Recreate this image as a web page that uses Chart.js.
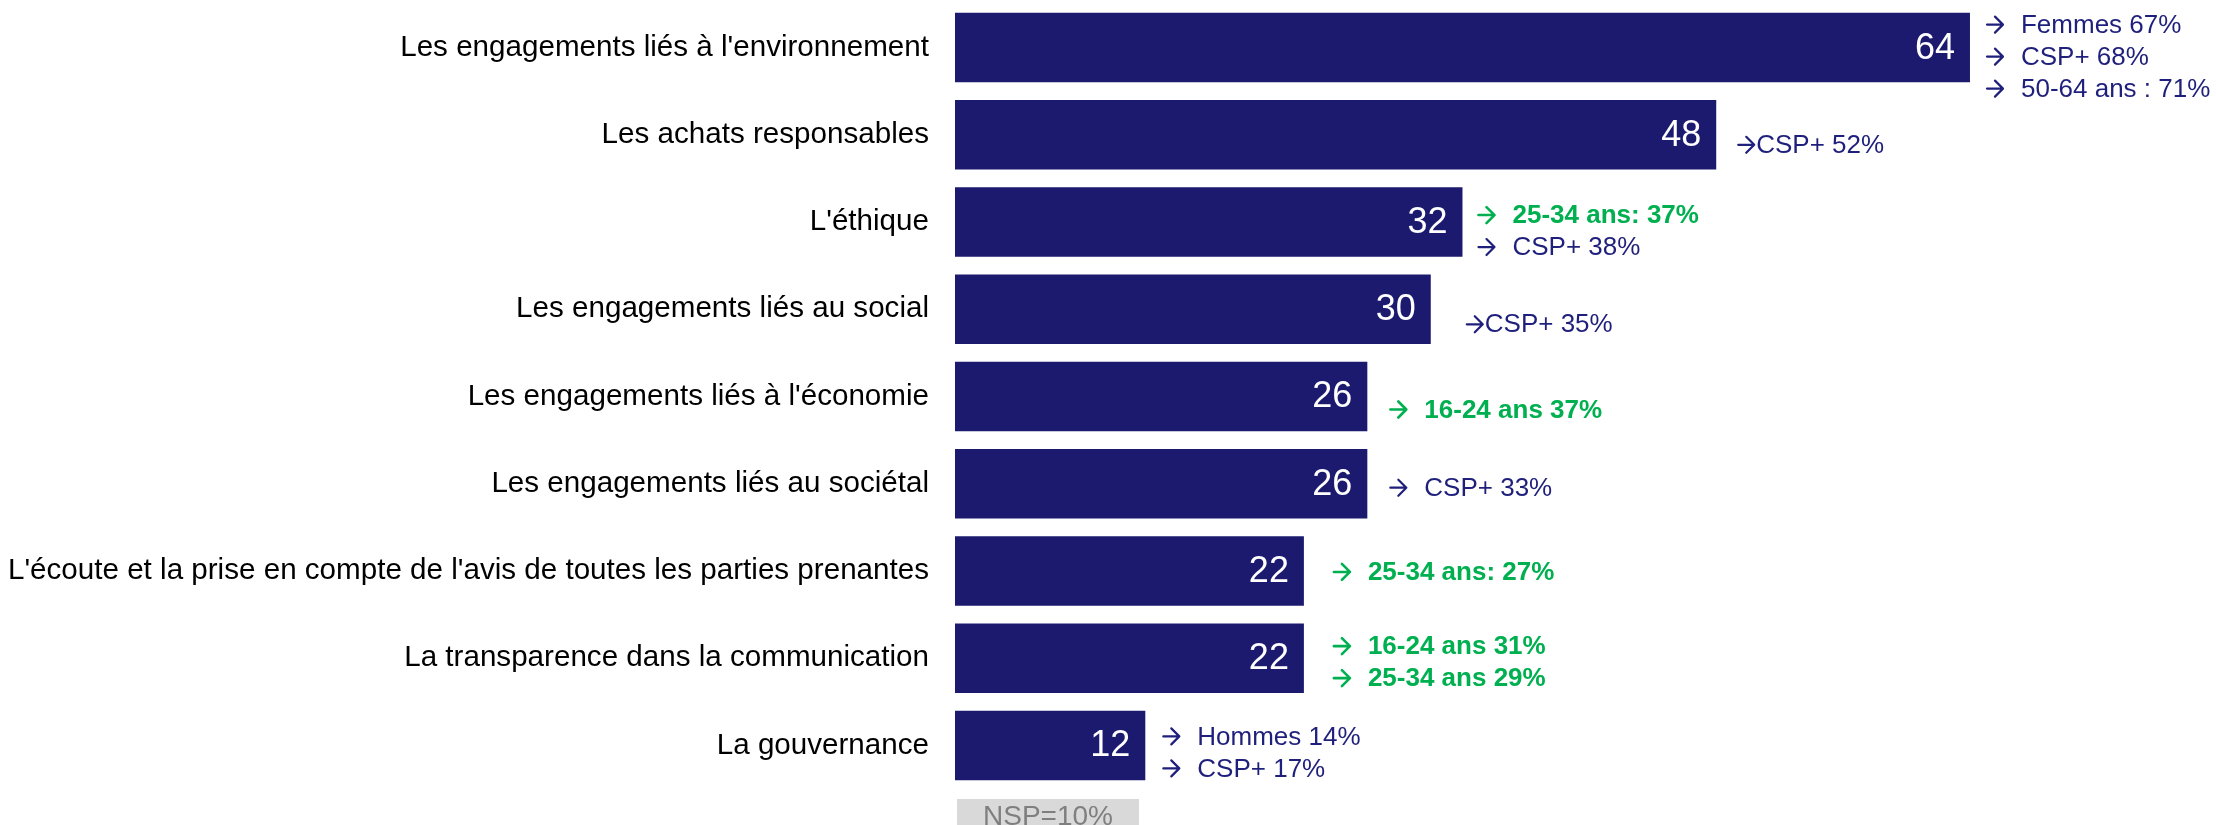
<!DOCTYPE html>
<html>
<head>
<meta charset="utf-8">
<script src="https://cdn.jsdelivr.net/npm/chart.js@4/dist/chart.umd.min.js"></script>
<style>
  html, body { margin: 0; padding: 0; background: #fff; }
  #wrap { width: 2216px; height: 825px; position: relative; }
</style>
</head>
<body>
<div id="wrap"><canvas id="chart"></canvas></div>
<script>
// ─── Data ────────────────────────────────────────────────────────────────────
const categories = [
  "Les engagements liés à l'environnement",
  "Les achats responsables",
  "L'éthique",
  "Les engagements liés au social",
  "Les engagements liés à l'économie",
  "Les engagements liés au sociétal",
  "L'écoute et la prise en compte de l'avis de toutes les parties prenantes",
  "La transparence dans la communication",
  "La gouvernance",
];
const values = [64, 48, 32, 30, 26, 26, 22, 22, 12];

// sub-group callouts next to each bar, and which lines are highlighted (green, bold)
const notes = [
  ["→ Femmes 67%", "→ CSP+ 68%", "→ 50-64 ans : 71%"],
  ["→CSP+ 52%"],
  ["→ 25-34 ans: 37%", "→ CSP+ 38%"],
  ["→CSP+ 35%"],
  ["→ 16-24 ans 37%"],
  ["→ CSP+ 33%"],
  ["→ 25-34 ans: 27%"],
  ["→ 16-24 ans 31%", "→ 25-34 ans 29%"],
  ["→ Hommes 14%", "→ CSP+ 17%"],
];
const noteHighlight = [
  [0, 0, 0],
  [0],
  [1, 0],
  [0],
  [1],
  [0],
  [1],
  [1, 1],
  [0, 0],
];
const nspLabel = "NSP=10%";

// ─── Styling ─────────────────────────────────────────────────────────────────
const NAVY = '#1b1a6f';
const NOTE_NAVY = '#1f1f7c';
const GREEN = '#00b050';
const FONT = '"Liberation Sans", Arial, sans-serif';

// callout placement tweaks (px from bar end / bar centre), per row
const NOTE_DX = [16, 21, 15, 35, 22, 22, 29, 29, 17];
const NOTE_DY = [9, 10, 9, 15, 13, 4, 1, 4, 7];
const NOTE_LINE = 32;

// thin "→" like the Wingdings arrow of the original slide
function drawArrow(ctx, x, y, color, bold) {
  ctx.save();
  ctx.strokeStyle = color;
  ctx.lineWidth = bold ? 2.6 : 2.2;
  ctx.lineCap = 'round';
  ctx.lineJoin = 'round';
  ctx.beginPath();
  ctx.moveTo(x + 1, y);
  ctx.lineTo(x + 17, y);
  ctx.moveTo(x + 9, y - 8);
  ctx.lineTo(x + 17, y);
  ctx.lineTo(x + 9, y + 8);
  ctx.stroke();
  ctx.restore();
}

const labelsPlugin = {
  id: 'barLabels',
  afterDatasetsDraw(chart) {
    const ctx = chart.ctx;
    const meta = chart.getDatasetMeta(0);
    ctx.save();
    meta.data.forEach((bar, i) => {
      // value inside the bar
      ctx.font = `36px ${FONT}`;
      ctx.fillStyle = '#fff';
      ctx.textAlign = 'right';
      ctx.textBaseline = 'middle';
      ctx.fillText(String(values[i]), bar.x - 15, bar.y + 1);

      // callouts to the right
      const lines = notes[i];
      const x0 = bar.x + NOTE_DX[i];
      const yc = bar.y + NOTE_DY[i];
      lines.forEach((t, j) => {
        const hi = noteHighlight[i][j];
        const color = hi ? GREEN : NOTE_NAVY;
        const y = yc + (j - (lines.length - 1) / 2) * NOTE_LINE;
        let x = x0;
        let txt = t;
        if (txt.startsWith('→')) {
          drawArrow(ctx, x, y, color, hi);
          txt = txt.slice(1);
          if (txt.startsWith(' ')) { x += 35; txt = txt.trimStart(); } else { x += 19; }
        }
        ctx.font = `${hi ? 'bold ' : ''}26px ${FONT}`;
        ctx.fillStyle = color;
        ctx.textAlign = 'left';
        ctx.textBaseline = 'middle';
        ctx.fillText(txt, x, y + 1);
      });
    });

    // NSP box under the last bar
    const a = chart.chartArea;
    const top = a.bottom + 10;
    ctx.fillStyle = '#d9d9d9';
    ctx.fillRect(a.left + 2, top, 182, chart.height - top);
    ctx.font = `28px ${FONT}`;
    ctx.fillStyle = '#7f7f7f';
    ctx.textAlign = 'center';
    ctx.textBaseline = 'middle';
    ctx.fillText(nspLabel, a.left + 2 + 91, top + 18);
    ctx.restore();
  }
};

new Chart(document.getElementById('chart'), {
  type: 'bar',
  data: {
    labels: categories,
    datasets: [{
      data: values,
      backgroundColor: NAVY,
      borderWidth: 0,
      barPercentage: 0.797,
      categoryPercentage: 1.0,
    }]
  },
  options: {
    indexAxis: 'y',
    responsive: true,
    maintainAspectRatio: false,
    animation: false,
    layout: { padding: { left: 0, right: 24, top: 4, bottom: 36 } },
    plugins: {
      legend: { display: false },
      tooltip: { enabled: false },
    },
    scales: {
      x: { display: false, min: 0, max: 78 },
      y: {
        grid: { display: false, drawTicks: false },
        border: { display: false },
        ticks: {
          color: '#000',
          padding: 26,
          font: { family: FONT, size: 29.6 },
        },
        afterFit(scale) {
          scale.width = 955;
          // no extra vertical padding for the label half-heights
          scale.paddingTop = 0;
          scale.paddingBottom = 0;
        },
      },
    },
  },
  plugins: [labelsPlugin],
});
</script>
</body>
</html>
